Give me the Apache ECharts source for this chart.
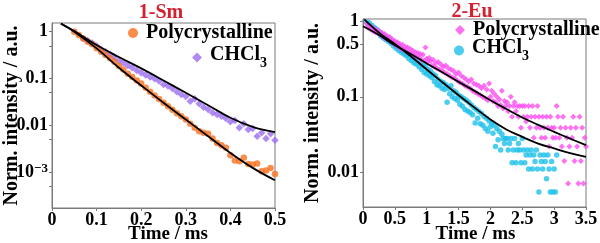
<!DOCTYPE html>
<html><head><meta charset="utf-8">
<script src="https://cdn.jsdelivr.net/npm/echarts@6/dist/echarts.min.js"></script>
<style>html,body{margin:0;padding:0;background:#fff}#c{width:600px;height:243px}</style>
</head><body><div id="c"></div>
<script>
// ---------- 1-Sm (left) ----------
const smPolyStart = 0.05, smPolyStep = 0.01;
const smPolyValues = [1.0,0.849,0.719,0.611,0.536,0.440,0.372,0.316,0.269,0.228,
0.184,0.156,0.126,0.107,0.0906,0.0782,0.0631,0.0518,0.0433,0.0361,
0.0301,0.0255,0.0213,0.0181,0.0156,0.0132,0.0107,0.00877,0.00743,0.00686,
0.00652,0.00518,0.00418,0.00372,0.00327,0.00228,0.00175,0.00169,0.00200,0.00148,
0.00144,0.00151,0.00103,0.00107,0.00122,0.000906];
const smChclStart = 0.07, smChclStep = 0.01;
const smChclValues = [0.719,0.652,0.572,0.493,0.418,0.373,0.327,0.287,0.243,0.217,
0.190,0.169,0.148,0.132,0.118,0.107,0.0984,0.0877,0.0743,0.0686,
0.0611,0.0518,0.0454,0.0411,0.0327,0.0367,0.0286,0.0243,0.0217,0.0184,
0.0169,0.0156,0.0139,0.0118,0.0126,0.00877,0.0107,0.00807,0.00849,0.00581,
0.00686,0.00518,0.00652,0.00477];
const smFitTime = [0.02,0.05,0.1,0.15,0.2,0.25,0.3,0.35,0.4,0.45,0.5];
const smFitPoly = [1.48,1.0,0.44,0.169,0.0708,0.0301,0.0132,0.00581,0.00255,0.00122,0.000663];
const smFitChcl = [1.5,1.03,0.518,0.287,0.164,0.0906,0.0493,0.0268,0.0144,0.0092,0.00708];
const smYLabels = [0.001,0.01,0.1,1];
const smYTicks = [0.0005,0.001,0.005,0.01,0.05,0.1,0.5,1];

// ---------- 2-Eu (right) ----------
const euPolyStart = 0.06, euPolyStep = 0.02;
const euPolyValues = [
0.93,0.82,0.88,0.78,0.84,0.74,0.80,0.71,0.77,0.69,
0.74,0.66,0.70,0.62,0.68,0.59,0.64,0.57,0.62,0.54,
0.58,0.51,0.55,0.48,0.53,0.46,0.50,0.43,0.49,0.42,
0.46,0.40,0.45,0.38,0.43,0.37,0.41,0.35,0.39,0.34,
0.38,0.33,0.37,0.31,0.36,0.30,0.45,0.32,0.29,0.33,
0.30,0.26,0.31,0.25,0.28,0.24,0.29,0.23,0.27,0.22,
0.25,0.21,0.26,0.20,0.24,0.19,0.23,0.18,0.22,0.175,
0.20,0.165,0.21,0.155,0.19,0.15,0.18,0.14,0.17,0.135,
0.16,0.13,0.17,0.12,0.15,0.115,0.145,0.11,0.14,0.105,
0.13,0.10,0.14,0.095,0.125,0.09,0.15,0.10,0.12,0.088,
0.11,0.085,0.10,0.0755,0.092,0.078,0.12,0.070,0.088,0.0755,
0.085,0.0645,0.0755,0.10,0.0545,0.0755,0.085,0.0645,0.0755,0.0545,
0.0755,0.039,0.0755,0.0545,0.0755,0.047,0.0545,0.0755,0.039,0.0545,
0.0755,0.0288,0.0545,0.039,0.0755,0.0545,0.039,0.0288,0.0545,0.039,
0.0288,0.0545,0.039,0.0219,0.0545,0.039,0.0288,0.039,0.0288,0.0755,
0.0545,0.0288,0.039,0.0219,0.0545,0.0141,0.039,0.0288,0.0071,0.0219,
0.039,0.0288,0.0545,0.0141,0.039,0.0219,0.0071,0.0545,0.0141,0.039,
0.0071,0.0288,0.0219];
const euChclStart = 0.06, euChclStep = 0.02;
const euChclValues = [
0.98,0.90,0.95,0.84,0.88,0.79,0.83,0.74,0.78,0.70,
0.72,0.64,0.68,0.60,0.63,0.57,0.60,0.54,0.57,0.51,
0.53,0.47,0.50,0.44,0.47,0.41,0.45,0.39,0.42,0.37,
0.40,0.35,0.37,0.32,0.36,0.30,0.34,0.28,0.32,0.27,
0.30,0.25,0.28,0.23,0.26,0.21,0.25,0.20,0.23,0.19,
0.22,0.18,0.20,0.16,0.19,0.145,0.17,0.14,0.16,0.13,
0.155,0.125,0.145,0.085,0.13,0.11,0.14,0.10,0.12,0.095,
0.115,0.09,0.105,0.08,0.10,0.075,0.095,0.068,0.09,0.065,
0.085,0.062,0.078,0.058,0.072,0.045,0.068,0.052,0.064,0.044,
0.06,0.042,0.055,0.038,0.052,0.035,0.048,0.04,0.045,0.033,
0.042,0.022,0.038,0.027,0.035,0.0197,0.032,0.028,0.024,0.028,
0.028,0.0197,0.024,0.028,0.0134,0.0197,0.028,0.0134,0.0197,0.024,
0.0197,0.0134,0.028,0.0197,0.0134,0.017,0.0197,0.0111,0.017,0.0197,
0.0111,0.017,0.0139,0.0197,0.0111,0.0055,0.017,0.0139,0.0111,0.017,
0.0139,0.0082,0.017,0.0111,0.0055,0.0139,0.0055,0.0111,0.0055,0.017];
const euFitPolyTime = [0,0.25,0.5,0.75,1,1.25,1.5,1.75,2,2.25,2.5,2.75,3,3.25,3.5];
const euFitPoly = [0.86,0.66,0.483,0.37,0.277,0.21,0.158,0.12,0.0903,0.069,0.0532,0.0425,0.0344,0.028,0.0229];
const euFitChclTime = [0.02,0.25,0.5,0.75,1,1.25,1.5,1.75,2,2.25,2.5,2.75,3,3.25,3.5];
const euFitChcl = [1.06,0.71,0.50,0.345,0.23,0.155,0.105,0.072,0.0501,0.037,0.0295,0.024,0.0207,0.018,0.016];
const euYLabels = [0.01,0.1,0.5,1];

const legendNames = {
  'Sm-Poly':'Polycrystalline','Sm-CHCl3':'{a|CHCl}{s|3}',
  'Eu-Poly':'Polycrystalline','Eu-CHCl3':'{a|CHCl}{s|3}'
};

// ---------- build ----------
const FONT = 'Liberation Serif';
const grid = (t0, step, vals) => vals.map((v, i) => [+(t0 + i * step).toFixed(4), v]);
const pairs = (ts, vs) => ts.map((t, i) => [t, vs[i]]);
const AX = '#7b7b7b';
const tick = {fontFamily: FONT, fontWeight: 'bold', fontSize: 18, color: '#000'};
const big = {fontFamily: FONT, fontWeight: 'bold', fontSize: 20, color: '#000'};

function xAxis(idx, max, interval, nameShift, gap) {
  return {
    type: 'value', gridIndex: idx, min: 0, max: max, interval: interval,
    name: 'Time / ms', nameLocation: 'middle', nameGap: gap, nameMoveOverlap: false,
    nameTextStyle: Object.assign({}, big, {fontSize: 19, padding: [0, 0, 0, nameShift]}),
    axisLine: {lineStyle: {color: AX, width: 1}},
    axisTick: {show: true, length: 3, lineStyle: {color: AX}},
    axisLabel: Object.assign({}, tick, {margin: 3, formatter: v => String(v)}),
    splitLine: {show: false}
  };
}
function yAxis(idx, min, max, labels, ticks, gap) {
  return {
    type: 'log', logBase: 10, gridIndex: idx, min: min, max: max,
    name: 'Norm. intensity / a.u.', nameLocation: 'middle', nameGap: gap, nameMoveOverlap: false,
    nameTextStyle: big,
    axisLine: {lineStyle: {color: AX, width: 1}},
    axisTick: {show: true, length: 3, lineStyle: {color: AX}, customValues: ticks},
    axisLabel: Object.assign({}, tick, {
      margin: 4, customValues: labels,
      formatter: v => (Math.abs(v - 0.001) < 1e-9 ? '{n|10}{sup|−3}' : String(+v.toPrecision(3))),
      rich: {
        n: {fontFamily: FONT, fontWeight: 'bold', fontSize: 18, color: '#000', verticalAlign: 'bottom'},
        sup: {fontFamily: FONT, fontWeight: 'bold', fontSize: 13, color: '#000', verticalAlign: 'bottom', padding: [0, 0, 6, 0]}
      }
    }),
    splitLine: {show: false}, minorTick: {show: false}
  };
}
function legend(name, icon, left, top) {
  return {
    data: [name], left: left, top: top, orient: 'vertical', padding: 0,
    icon: icon, itemWidth: 10, itemHeight: 10, selectedMode: false,
    formatter: n => legendNames[n],
    textStyle: Object.assign({}, big, {padding: [0, 0, 0, 3],
      rich: {
        a: {fontFamily: FONT, fontWeight: 'bold', fontSize: 20, color: '#000', verticalAlign: 'top'},
        s: {fontFamily: FONT, fontWeight: 'bold', fontSize: 14, color: '#000', verticalAlign: 'top', padding: [11, 0, 0, 0]}
      }})
  };
}
const fitLine = (name, x, y, data) => ({
  name: name, type: 'line', xAxisIndex: x, yAxisIndex: y, data: data,
  showSymbol: false, symbol: 'none', smooth: 0.4, z: 10, silent: true,
  lineStyle: {color: '#000', width: 1.8}
});

const option = {
  animation: false,
  backgroundColor: '#fff',
  grid: [
    {left: 52, right: 325, top: 23, bottom: 35, outerBoundsMode: 'none', containLabel: false,
      show: true, borderColor: AX, borderWidth: 1, backgroundColor: 'transparent'},
    {left: 363, right: 14, top: 19, bottom: 36, outerBoundsMode: 'none', containLabel: false,
      show: true, borderColor: AX, borderWidth: 1, backgroundColor: 'transparent'}
  ],
  xAxis: [xAxis(0, 0.5, 0.1, 9, 17), xAxis(1, 3.5, 0.5, 2, 18)],
  yAxis: [yAxis(0, 1.69e-4, 1.535, smYLabels, smYTicks, 30), yAxis(1, 0.00347, 1.075, euYLabels, euYLabels, 40)],
  legend: [
    legend('Sm-Poly', 'circle', 128, 23),
    legend('Sm-CHCl3', 'diamond', 192, 45),
    legend('Eu-Poly', 'diamond', 455, 20),
    legend('Eu-CHCl3', 'circle', 454, 38)
  ],
  graphic: [
    {type: 'text', x: 161, y: 12.5, style: {text: '1-Sm', fill: '#d42030', font: 'bold 20px "Liberation Serif"', align: 'center', verticalAlign: 'middle'}},
    {type: 'text', x: 472, y: 11.5, style: {text: '2-Eu', fill: '#d42030', font: 'bold 20px "Liberation Serif"', align: 'center', verticalAlign: 'middle'}}
  ],
  series: [
    {name: 'Sm-CHCl3', type: 'scatter', xAxisIndex: 0, yAxisIndex: 0, symbol: 'diamond', symbolSize: 7.5,
      itemStyle: {color: '#9b6ef0'}, data: grid(smChclStart, smChclStep, smChclValues)},
    {name: 'Sm-Poly', type: 'scatter', xAxisIndex: 0, yAxisIndex: 0, symbol: 'circle', symbolSize: 6.5,
      itemStyle: {color: '#f7701f'}, data: grid(smPolyStart, smPolyStep, smPolyValues)},
    fitLine('smfit1', 0, 0, pairs(smFitTime, smFitPoly)),
    fitLine('smfit2', 0, 0, pairs(smFitTime, smFitChcl)),
    {name: 'Eu-CHCl3', type: 'scatter', xAxisIndex: 1, yAxisIndex: 1, symbol: 'circle', symbolSize: 5.5,
      itemStyle: {color: '#1ec0ea'}, data: grid(euChclStart, euChclStep, euChclValues)},
    {name: 'Eu-Poly', type: 'scatter', xAxisIndex: 1, yAxisIndex: 1, symbol: 'diamond', symbolSize: 6,
      itemStyle: {color: '#fb4ff0'}, data: grid(euPolyStart, euPolyStep, euPolyValues)},
    fitLine('eufit1', 1, 1, pairs(euFitPolyTime, euFitPoly)),
    fitLine('eufit2', 1, 1, pairs(euFitChclTime, euFitChcl))
  ]
};
const chart = echarts.init(document.getElementById('c'), null, {renderer: 'canvas'});
chart.setOption(option);
</script></body></html>
